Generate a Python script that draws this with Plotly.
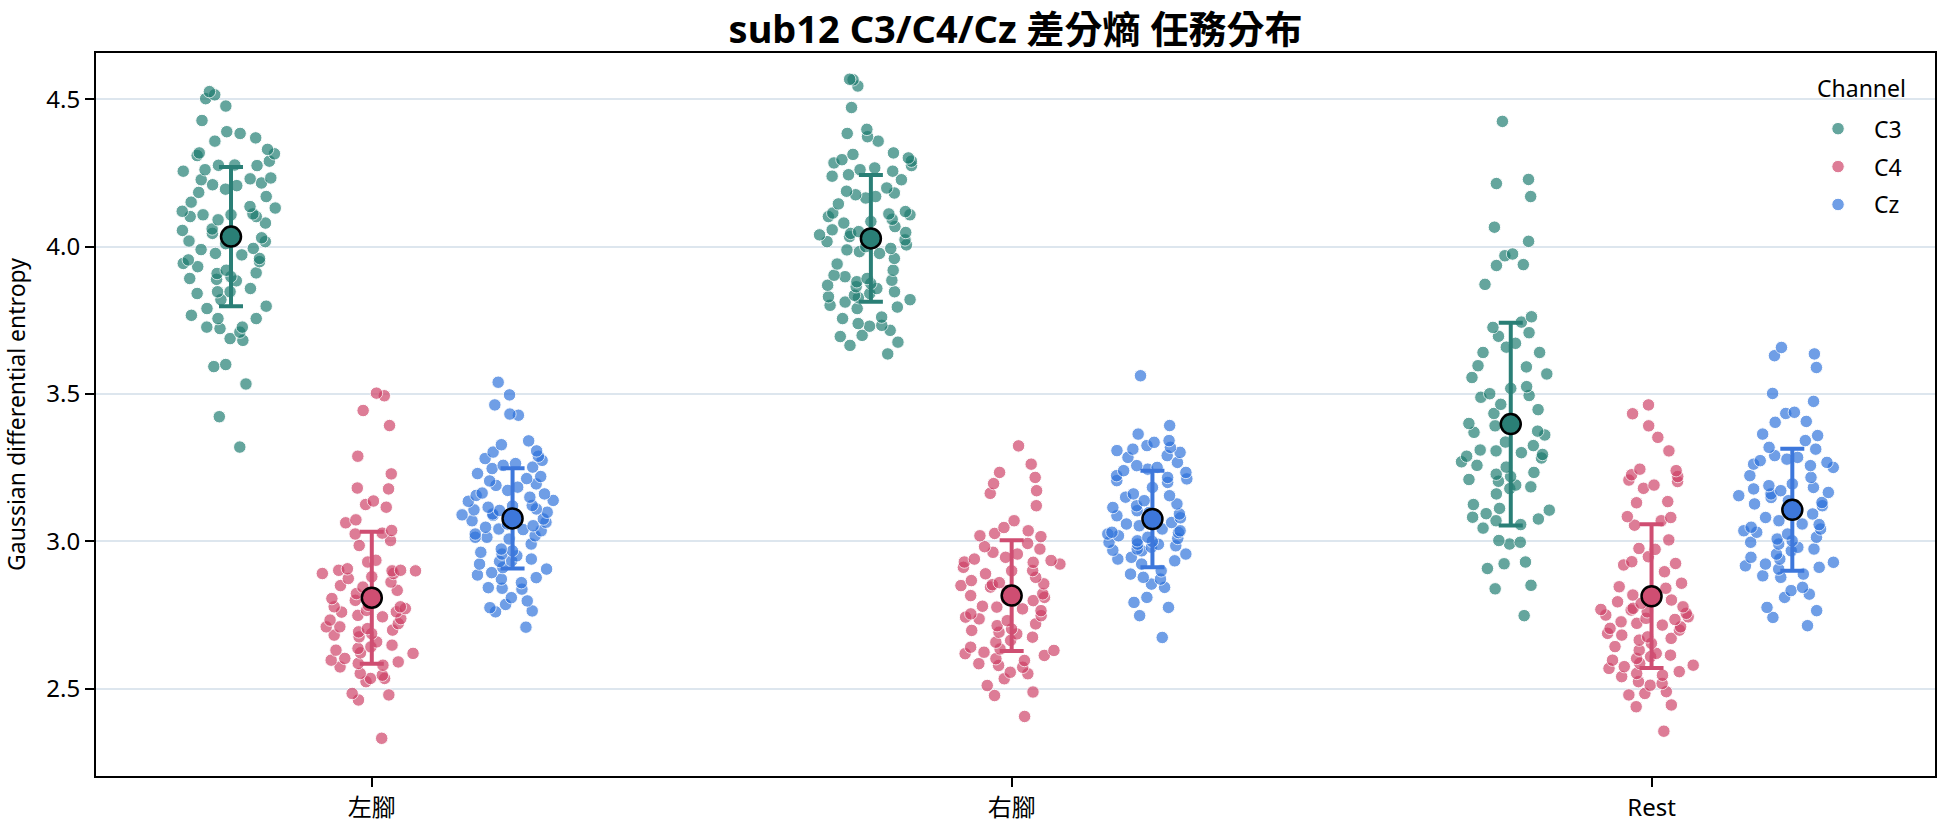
import plotly.graph_objects as go

# ---------------- data ----------------
conditions = ["左腳", "右腳", "Rest"]
channels = ["C3", "C4", "Cz"]

c3_left = [4.502, 4.477, 4.526, 4.515, 4.428, 4.390, 4.384, 4.358, 4.369, 4.309, 4.318, 4.330, 4.315,
           4.276, 4.277, 4.275, 4.290, 4.256, 4.230, 4.207, 4.216, 4.261, 4.227, 4.233, 4.210, 4.184,
           4.195, 4.170, 4.151, 4.131, 4.136, 4.111, 4.108, 4.108, 4.102, 4.091, 4.102, 4.080, 4.055,
           4.019, 4.045, 4.040, 4.017, 3.994, 3.977, 3.972, 3.949, 3.911, 3.884, 3.909, 3.898, 3.943,
           3.920, 3.955, 3.932, 3.889, 3.892, 3.841, 3.847, 3.847, 3.858, 3.820, 3.798, 3.790, 3.756,
           3.756, 3.767, 3.722, 3.727, 3.727, 3.710, 3.688, 3.682, 3.600, 3.593, 3.534, 3.423, 3.320,
           4.060, 4.010, 3.990, 4.120, 3.960, 4.030]
c4_left = [3.494, 3.503, 3.444, 3.393, 3.289, 3.229, 3.181, 3.178, 3.137, 3.116, 3.125, 3.073, 3.063,
           3.037, 3.025, 3.003, 2.986, 3.028, 2.936, 2.930, 2.902, 2.902, 2.900, 2.907, 2.891, 2.891,
           2.900, 2.874, 2.862, 2.845, 2.834, 2.823, 2.806, 2.783, 2.778, 2.772, 2.778, 2.766, 2.761,
           2.749, 2.744, 2.738, 2.733, 2.721, 2.710, 2.710, 2.704, 2.699, 2.693, 2.687, 2.682, 2.676,
           2.659, 2.648, 2.642, 2.637, 2.631, 2.622, 2.620, 2.603, 2.597, 2.591, 2.586, 2.580, 2.574,
           2.552, 2.546, 2.535, 2.524, 2.535, 2.484, 2.479, 2.462, 2.332, 2.850, 2.880, 2.800, 2.760]
cz_left = [3.540, 3.497, 3.463, 3.432, 3.428, 3.341, 3.328, 3.307, 3.303, 3.289, 3.281, 3.275, 3.264,
           3.258, 3.252, 3.247, 3.230, 3.220, 3.213, 3.205, 3.195, 3.190, 3.184, 3.173, 3.164, 3.161,
           3.156, 3.150, 3.139, 3.136, 3.122, 3.116, 3.110, 3.107, 3.105, 3.099, 3.093, 3.088, 3.082,
           3.076, 3.070, 3.065, 3.059, 3.053, 3.048, 3.042, 3.036, 3.025, 3.019, 3.014, 3.014, 3.008,
           2.991, 2.974, 2.968, 2.963, 2.957, 2.951, 2.940, 2.934, 2.932, 2.923, 2.911, 2.906, 2.894,
           2.886, 2.877, 2.872, 2.860, 2.843, 2.841, 2.838, 2.809, 2.798, 2.786, 2.775, 2.764, 2.761,
           2.709, 3.090, 3.040, 3.120]
c3_right = [4.545, 4.568, 4.566, 4.472, 4.398, 4.384, 4.373, 4.358, 4.318, 4.313, 4.301, 4.295, 4.290,
            4.284, 4.275, 4.267, 4.261, 4.256, 4.244, 4.239, 4.227, 4.199, 4.188, 4.182, 4.176, 4.170,
            4.165, 4.145, 4.119, 4.114, 4.111, 4.108, 4.102, 4.093, 4.085, 4.080, 4.068, 4.057, 4.051,
            4.048, 4.045, 4.040, 4.034, 4.028, 4.023, 4.017, 4.006, 4.000, 3.994, 3.989, 3.983, 3.977,
            3.960, 3.941, 3.920, 3.903, 3.898, 3.892, 3.886, 3.881, 3.875, 3.869, 3.864, 3.858, 3.847,
            3.841, 3.835, 3.830, 3.827, 3.820, 3.812, 3.801, 3.795, 3.790, 3.761, 3.756, 3.739, 3.733,
            3.730, 3.716, 3.699, 3.695, 3.676, 3.665, 3.636]
c4_right = [3.324, 3.262, 3.234, 3.217, 3.196, 3.172, 3.163, 3.121, 3.070, 3.047, 3.036, 3.027, 3.019,
            3.016, 2.993, 2.982, 2.974, 2.963, 2.957, 2.946, 2.940, 2.935, 2.929, 2.923, 2.912, 2.901,
            2.890, 2.878, 2.867, 2.856, 2.853, 2.850, 2.845, 2.833, 2.822, 2.816, 2.810, 2.805, 2.799,
            2.777, 2.771, 2.765, 2.754, 2.748, 2.743, 2.737, 2.731, 2.720, 2.714, 2.703, 2.698, 2.692,
            2.686, 2.675, 2.664, 2.658, 2.641, 2.635, 2.630, 2.624, 2.619, 2.613, 2.602, 2.596, 2.585,
            2.579, 2.573, 2.556, 2.551, 2.534, 2.511, 2.489, 2.477, 2.406, 2.900, 2.860, 2.780, 2.930]
cz_right = [3.562, 3.393, 3.364, 3.342, 3.336, 3.325, 3.319, 3.313, 3.308, 3.302, 3.291, 3.285, 3.268,
            3.257, 3.251, 3.245, 3.240, 3.234, 3.223, 3.217, 3.212, 3.206, 3.200, 3.183, 3.161, 3.155,
            3.138, 3.127, 3.121, 3.115, 3.104, 3.098, 3.093, 3.087, 3.070, 3.064, 3.059, 3.053, 3.042,
            3.036, 3.031, 3.025, 3.019, 3.014, 3.002, 2.997, 2.991, 2.985, 2.980, 2.974, 2.968, 2.957,
            2.946, 2.940, 2.934, 2.923, 2.900, 2.889, 2.878, 2.872, 2.855, 2.844, 2.810, 2.793, 2.776,
            2.748, 2.674, 3.010, 2.990, 3.030, 3.000, 2.970, 3.080, 3.150]
c3_rest = [4.425, 4.228, 4.214, 4.170, 4.066, 4.018, 3.975, 3.969, 3.939, 3.936, 3.872, 3.762, 3.726,
           3.744, 3.708, 3.696, 3.672, 3.659, 3.641, 3.641, 3.596, 3.592, 3.568, 3.556, 3.525, 3.519,
           3.501, 3.495, 3.489, 3.465, 3.447, 3.434, 3.392, 3.386, 3.374, 3.370, 3.361, 3.337, 3.325,
           3.307, 3.301, 3.295, 3.289, 3.283, 3.270, 3.258, 3.252, 3.234, 3.228, 3.210, 3.204, 3.191,
           3.185, 3.179, 3.161, 3.125, 3.112, 3.106, 3.094, 3.082, 3.076, 3.070, 3.057, 3.045, 3.003,
           2.997, 2.991, 2.930, 2.924, 2.908, 2.851, 2.839, 2.748, 3.220, 3.310, 3.400]
c4_rest = [3.463, 3.433, 3.392, 3.353, 3.307, 3.245, 3.240, 3.226, 3.220, 3.208, 3.203, 3.191, 3.180,
           3.135, 3.131, 3.084, 3.081, 3.070, 3.055, 3.005, 2.976, 2.973, 2.948, 2.931, 2.925, 2.920,
           2.897, 2.858, 2.846, 2.841, 2.824, 2.818, 2.801, 2.795, 2.790, 2.778, 2.773, 2.769, 2.767,
           2.761, 2.756, 2.750, 2.744, 2.739, 2.735, 2.727, 2.722, 2.716, 2.710, 2.705, 2.699, 2.688,
           2.682, 2.676, 2.671, 2.665, 2.654, 2.643, 2.631, 2.620, 2.614, 2.609, 2.603, 2.597, 2.586,
           2.580, 2.575, 2.569, 2.558, 2.552, 2.546, 2.541, 2.524, 2.518, 2.512, 2.490, 2.484, 2.479,
           2.445, 2.439, 2.356]
cz_rest = [3.658, 3.636, 3.630, 3.590, 3.502, 3.475, 3.438, 3.434, 3.407, 3.404, 3.364, 3.359, 3.342,
           3.319, 3.313, 3.291, 3.285, 3.279, 3.274, 3.268, 3.262, 3.257, 3.251, 3.223, 3.217, 3.195,
           3.189, 3.183, 3.178, 3.172, 3.166, 3.161, 3.155, 3.149, 3.138, 3.132, 3.127, 3.121, 3.115,
           3.093, 3.081, 3.070, 3.059, 3.057, 3.048, 3.042, 3.036, 3.031, 3.025, 3.014, 3.008, 3.002,
           2.997, 2.991, 2.980, 2.974, 2.968, 2.957, 2.946, 2.940, 2.929, 2.923, 2.917, 2.912, 2.906,
           2.889, 2.883, 2.878, 2.844, 2.833, 2.821, 2.810, 2.776, 2.765, 2.742, 2.714]

values = {
    "C3": [c3_left, c3_right, c3_rest],
    "C4": [c4_left, c4_right, c4_rest],
    "Cz": [cz_left, cz_right, cz_rest],
}

# mean and std
means = {"C3": [4.034, 4.028, 3.398], "C4": [2.809, 2.816, 2.814], "Cz": [3.078, 3.076, 3.107]}
stds = {"C3": [0.236, 0.215, 0.344], "C4": [0.224, 0.188, 0.244], "Cz": [0.170, 0.164, 0.207]}

y_ticks = [2.5, 3.0, 3.5, 4.0, 4.5]

# ---------------- styles ----------------
point_colors = {"C3": "#1c7b6f", "C4": "#cd3f65", "Cz": "#2c71db"}
mean_colors = {"C3": "#2a7f76", "C4": "#cf4e72", "Cz": "#3d77db"}
HUE_OFFSET = 0.22
FONT = "Noto Sans, Noto Sans CJK TC, sans-serif"

fig = go.Figure()

for h, ch in enumerate(channels):
    off = (h - 1) * HUE_OFFSET
    for i, cond in enumerate(conditions):
        fig.add_trace(go.Box(
            y=values[ch][i], x0=i + off, width=0.17,
            boxpoints="all", jitter=1.0, pointpos=0,
            fillcolor="rgba(0,0,0,0)", line=dict(width=0, color="rgba(0,0,0,0)"),
            whiskerwidth=0,
            marker=dict(size=12.5, color=point_colors[ch], opacity=0.68,
                        line=dict(color="white", width=1)),
            showlegend=False, hoveron="points", name=ch,
        ))

for h, ch in enumerate(channels):
    off = (h - 1) * HUE_OFFSET
    fig.add_trace(go.Scatter(
        x=[i + off for i in range(len(conditions))], y=means[ch], mode="markers",
        marker=dict(size=20, color=mean_colors[ch], line=dict(color="black", width=2.5)),
        error_y=dict(type="data", array=stds[ch], visible=True, color=mean_colors[ch],
                     thickness=4, width=12),
        showlegend=False, name=ch,
    ))

for ch in channels:
    fig.add_trace(go.Scatter(
        x=[None], y=[None], mode="markers", name=ch, legendgroup=ch,
        marker=dict(size=12.5, color=point_colors[ch], opacity=0.68,
                    line=dict(color="white", width=1)),
    ))

fig.update_layout(
    width=1944, height=827,
    paper_bgcolor="white", plot_bgcolor="white",
    margin=dict(l=96, r=9, t=53, b=51, autoexpand=False),
    font=dict(family=FONT, size=23, color="black"),
    title=dict(text="<b>sub12 C3/C4/Cz 差分熵 任務分布</b>", x=0.5, xref="paper", xanchor="center",
               y=0.964, yref="container", yanchor="middle",
               font=dict(family=FONT, size=38, color="black")),
    showlegend=True,
    legend=dict(x=0.9277, xanchor="left", y=0.925, yanchor="top",
                bgcolor="rgba(0,0,0,0)", borderwidth=0, tracegroupgap=5,
                font=dict(size=23), itemwidth=62),
    annotations=[dict(text="Channel", xref="paper", yref="paper", x=0.9853, y=0.9516,
                      xanchor="right", yanchor="middle", showarrow=False,
                      font=dict(size=23, color="black"))],
)

fig.update_xaxes(
    range=[-0.431, 2.443], tickmode="array", tickvals=list(range(len(conditions))),
    ticktext=conditions, showgrid=False, zeroline=False,
    showline=True, linecolor="black", linewidth=2, mirror=True,
    ticks="outside", ticklen=9, tickwidth=2, tickcolor="black",
    tickfont=dict(size=24),
)
fig.update_yaxes(
    range=[2.204, 4.657], tickmode="array", tickvals=y_ticks,
    ticktext=[f"{v:.1f}" for v in y_ticks],
    showgrid=True, gridcolor="#dde6ee", gridwidth=1.5, zeroline=False,
    showline=True, linecolor="black", linewidth=2, mirror=True,
    ticks="outside", ticklen=9, tickwidth=2, tickcolor="black",
    tickfont=dict(size=24),
    title=dict(text="Gaussian differential entropy", font=dict(size=23), standoff=14),
)

fig.write_html("out.html")
